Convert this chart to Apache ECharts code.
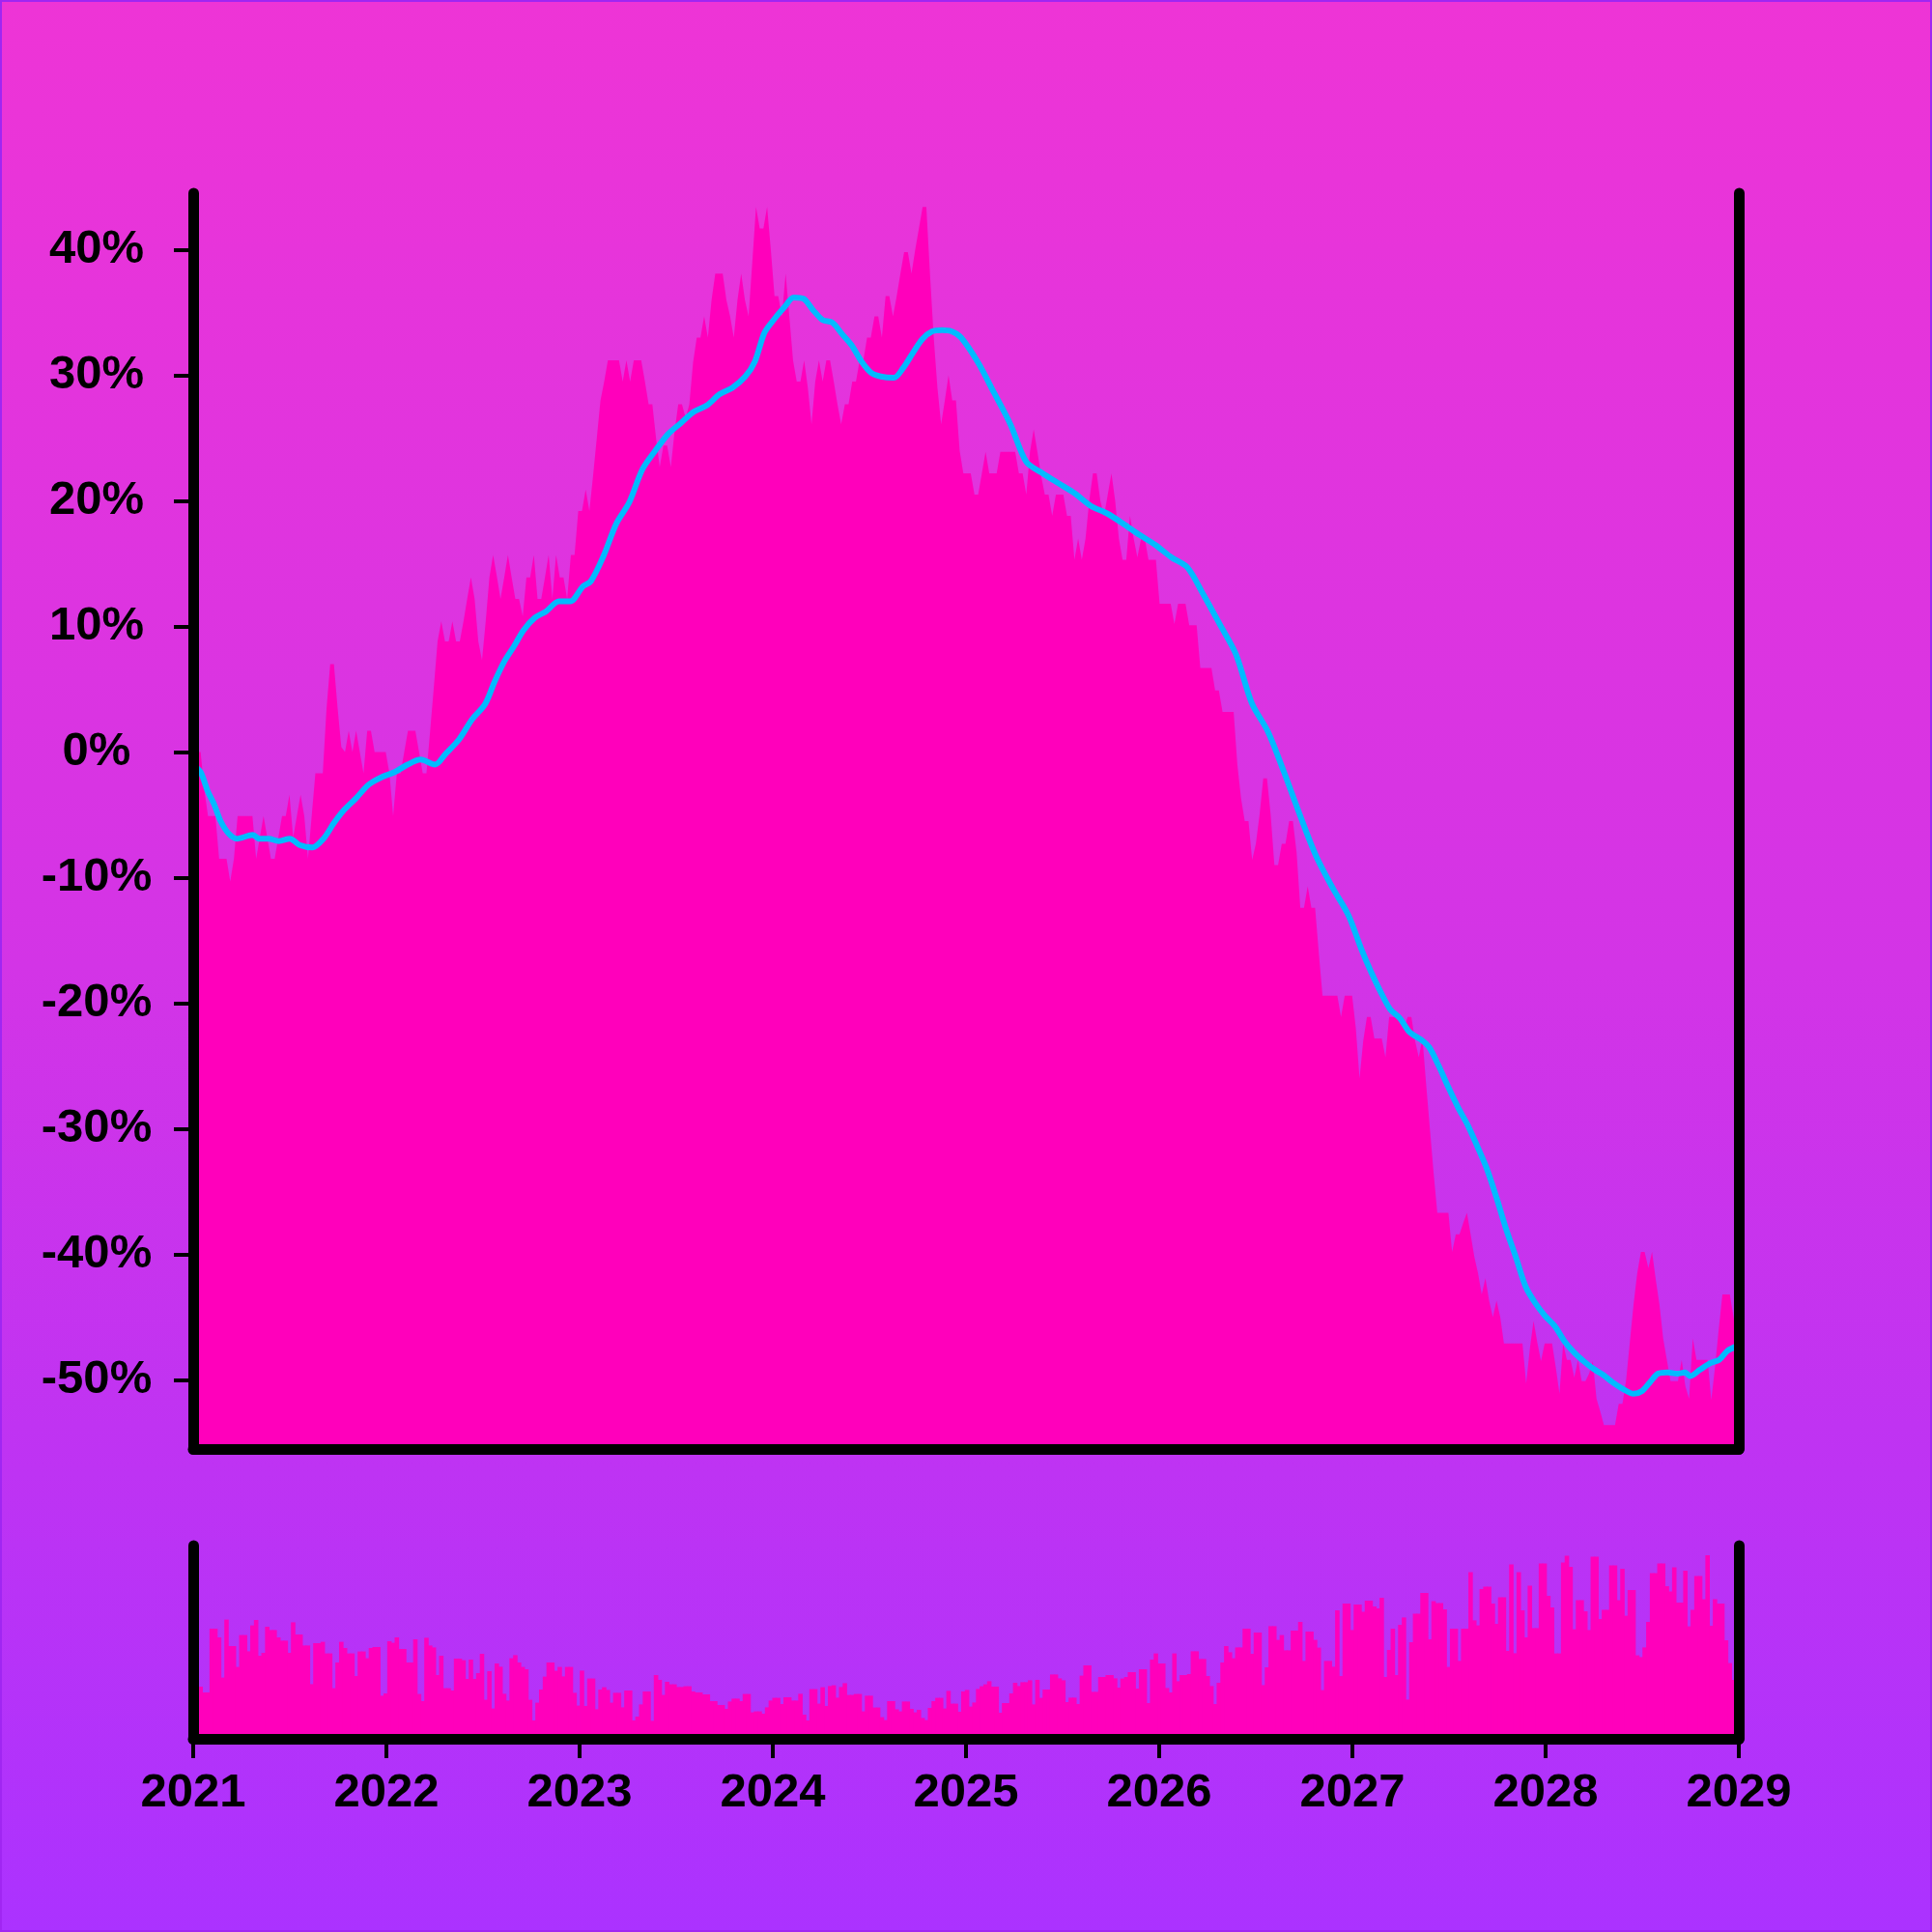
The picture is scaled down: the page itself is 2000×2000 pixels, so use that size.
<!DOCTYPE html>
<html>
<head>
<meta charset="utf-8">
<script src="https://cdn.jsdelivr.net/npm/echarts@6/dist/echarts.min.js"></script>
<style>
  html, body { margin: 0; padding: 0; }
  #wrap { position: relative; width: 2000px; height: 2000px;
    background: linear-gradient(180deg, #ee34d6 0%, #d334e6 50%, #ab32ff 100%); }
  #chart { position: absolute; left: 0; top: 0; width: 2000px; height: 2000px; }
  #frame { position: absolute; left: 0; top: 0; width: 2000px; height: 2000px;
    box-sizing: border-box; border: 2px solid #a026f2; pointer-events: none; }
</style>
</head>
<body>
<div id="wrap"><div id="chart"></div><div id="frame"></div></div>
<script>
// ---- data (weekly, starting 2021-01-01) ----
const startYear = 2021;
const endYear = 2029;
const pctTicks = [-50, -40, -30, -20, -10, 0, 10, 20, 30, 40];

// weekly % change (area)
const weeklyChange = [
0,0,0,-3,-5.1,-5.1,-5.1,-8.5,-8.5,-8.5,
-10.3,-8.5,-5.1,-5.1,-5.1,-5.1,-5.1,-8.5,-6.8,-5.1,
-6.8,-8.5,-8.5,-6.8,-5.1,-5.1,-3.4,-6.8,-5.1,-3.4,
-5.1,-8.5,-5.1,-1.7,-1.7,-1.7,3.4,7.0,7.0,3.5,
0.4,0,1.7,0,1.7,0,-1.7,1.7,1.7,0,
0,0,0,-1.7,-5.1,-1.7,-1.7,0,1.7,1.7,
1.7,0,-1.7,-1.7,1.7,5.2,8.8,10.4,8.8,8.8,
10.4,8.8,8.8,10.4,12.2,13.9,12.2,8.8,7.3,10.4,
13.9,15.7,14.0,12.2,13.9,15.7,13.9,12.2,12.2,10.8,
13.9,13.9,15.7,12.2,12.2,13.9,15.7,12.2,15.7,13.9,
13.9,12.2,15.7,15.7,19.2,19.2,20.9,19.2,22,25,
28,29.5,31.2,31.2,31.2,31.2,29.5,31.2,29.5,31.2,
31.2,31.2,29.5,27.7,27.7,25,22.7,24.4,24.4,22.7,
25.5,27.7,27.7,26.6,27.7,31,33,33,34.7,33,
36,38.1,38.1,38.1,36,34.7,33,36,38.1,36,
34.7,39,43.4,41.7,41.7,43.4,40,36.3,36.3,34.7,
38.1,34.7,31.2,29.5,29.5,31.2,29,26.1,29.5,31.2,
29.5,31.2,31.2,29.5,27.7,26.1,27.7,27.7,29.5,29.5,
31.2,31.2,33,33,34.7,34.7,33,36.3,36.3,34.7,
36.3,38.1,39.8,39.8,38.1,40,41.7,43.4,43.4,38,
33,29,26.1,28,30,28,28,24,22.2,22.2,
22.2,20.5,20.5,22.2,23.9,22.2,22.2,22.2,23.9,23.9,
23.9,23.9,23.9,22.2,22.2,20.5,23.9,25.7,23.9,22,
20.5,20.5,18.8,20.5,20.5,20.5,18.8,18.8,15.3,17.0,
15.3,17,20,22.2,22.2,20,18.8,20.5,22.2,20,
17,15.3,15.3,18.8,17,15.5,17,17,15.3,15.3,
15.3,11.8,11.8,11.8,11.8,10.2,11.8,11.8,11.8,10.1,
10.1,10.1,6.7,6.7,6.7,6.7,4.9,4.9,3.2,3.2,
3.2,3.2,-1,-3.7,-5.5,-5.5,-8.6,-7.3,-5,-2.1,
-2.1,-5,-9.0,-9.0,-7.3,-7.3,-5.5,-5.5,-8,-12.4,
-12.4,-10.7,-12.4,-12.4,-16,-19.4,-19.4,-19.4,-19.4,-19.4,
-21.1,-19.4,-19.4,-19.4,-22,-26,-23,-21.1,-21.1,-22.8,
-22.8,-22.8,-24.3,-21.1,-21.1,-21.1,-21.1,-22,-21.1,-21.1,
-23,-24.3,-22.8,-26.5,-30,-33.5,-36.7,-36.7,-36.7,-36.7,
-39.8,-38.4,-38.4,-37.5,-36.7,-38.4,-40.2,-41.5,-43.2,-41.9,
-43.7,-45,-43.7,-45,-47.1,-47.1,-47.1,-47.1,-47.1,-47.1,
-50.3,-47.5,-45.3,-47,-48.5,-47.1,-47.1,-47.1,-49,-51.1,
-47.1,-48.4,-48.4,-49.8,-48.4,-50.1,-50.1,-49.5,-48.5,-51.5,
-52.5,-53.6,-53.6,-53.6,-53.6,-51.9,-51.9,-50,-47,-44,
-41.5,-39.8,-39.8,-41.1,-39.8,-42,-44,-46.7,-48.4,-50.1,
-50.1,-50.1,-48.4,-50.5,-51.5,-46.7,-48.4,-48.4,-48.4,-48.4,
-51.6,-49,-46,-43.2,-43.2,-43.2,-45,-47
];

// rolling average (cyan line), read at these week offsets
const avgWeeks = [0,2,3.9,5.7,7.4,9.6,11.8,16.1,17.8,20.4,23.1,26.1,28.7,32.2,35.2,37.9,40.5,43.9,47.4,50.9,
54.4,57.9,61.4,65.3,68.3,71.8,75.3,78.8,81.4,84.0,86.6,89.2,92.3,95.3,98.8,101.8,105.3,107.4,110.8,114.3,
117.8,121.3,124.8,128.2,131.7,135.2,138.7,142.2,145.6,149.1,151.7,154.3,157,159.6,162.2,164.8,167.4,170,172.6,175.2,
177.8,180.5,183.1,185.7,189.2,191.8,194.4,197,199.6,202.2,204.8,207.4,212,216.3,220.7,225,229.4,233.7,238.1,242.4,
246.8,251.1,255.5,259.8,264.2,268.5,272.9,277.2,281.6,285.9,290.3,294.6,299,303.3,307.7,312,315.5,318.1,320.7,323.3,
325.9,328.5,331.6,333.8,336.4,339,341.6,344.2,346.8,349.4,352,354.6,357.3,359.9,362.5,365.1,367.7,370.3,372.9,375.5,
378.1,380.8,383.4,386,389,391.2,393.4,395.6,398.2,400.8,402.9,404.3,406.9,409.5,412.1,414.3,417];
const avgValues = [-1.0,-1.6,-3.1,-4.2,-5.5,-6.5,-6.9,-6.6,-6.9,-6.9,-7.1,-6.9,-7.4,-7.6,-6.9,-5.7,-4.7,-3.7,-2.6,-2.0,
-1.6,-1.0,-0.6,-1.0,-0.1,1.0,2.6,3.8,5.6,7.2,8.4,9.7,10.7,11.2,12.0,12.0,13.2,13.6,15.6,18.2,
19.9,22.5,24.0,25.3,26.2,27.1,27.6,28.5,29.0,29.9,31.1,33.4,34.5,35.4,36.2,36.1,35.2,34.4,34.2,33.3,
32.4,31.1,30.2,29.9,29.8,30.6,31.8,32.9,33.5,33.6,33.5,33.0,31.0,28.6,26.1,23.1,22.2,21.4,20.6,19.6,
19.0,18.2,17.3,16.5,15.5,14.7,12.5,10.2,7.8,3.9,1.6,-1.6,-5.1,-8.3,-10.8,-13.0,-15.7,-17.5,-19.1,-20.5,
-21.2,-22.3,-22.9,-23.5,-25.0,-26.7,-28.3,-29.7,-31.4,-33.2,-35.5,-38.0,-40.3,-42.6,-43.9,-44.9,-45.7,-46.9,-47.8,-48.5,
-49.1,-49.6,-50.2,-50.7,-51.1,-50.9,-50.2,-49.5,-49.4,-49.5,-49.4,-49.7,-49.2,-48.7,-48.4,-47.7,-47.3];

// weekly volume (lower panel, arbitrary units 0-100)
const weeklyVolume = [
27,27,27,24,24,57,57,52.5,31.7,61.7,
48,48,37.2,53.7,53.7,45.3,58.7,61.5,43,44.5,
58,56.3,56.3,52.5,50.8,50.8,44.5,60.3,54,54,
48.3,48.3,28.3,49.5,49.5,50.2,44.2,44.2,26.2,39.5,
50.2,47,44.2,44.2,32.5,45.2,45.2,41.7,47,47.5,
47.5,22.3,23.5,50.5,49.7,52.5,46.5,46.5,39.5,39.5,
51.5,23.2,19.5,52.3,48.3,47.3,33,43,26.2,26.2,
25,41.5,41.5,40.7,31,41,31,34,44,20.2,
35,15.7,39,37.3,23.3,19.8,41.7,43.3,39.5,37.2,
36,20.2,9.5,18.7,25.5,32.2,39.5,39.5,35.2,37.2,
32.3,37.2,37.2,23.8,17.2,35.3,17,31.2,31.2,15.3,
25.5,26.7,25.3,18.7,23.8,23.8,16.3,25,25,9.5,
11.5,17.8,24.5,24.5,9.3,33,30.5,22.7,29.5,28.2,
28.2,26.8,26.8,27.2,27.2,24.5,24,24,23,23,
19.5,19.5,17.5,17.5,15.5,19.3,20.8,20.8,19.5,23.2,
23.2,13.7,14.2,14.2,13,16.3,19.8,21.2,21.2,18,
21.5,21.5,19.8,19.8,23.3,12.5,9.5,25.7,25.7,18.2,
26.7,17,27.3,27.7,21.3,26.8,28.8,22.7,22.7,23.2,
23.2,14.2,22.3,22.3,16.2,16.2,11.2,9.7,19.5,19.5,
15.3,14.2,19.3,19.3,15.5,13.7,15,10.8,9.7,16,
19.5,21.2,21.2,15.7,24.8,18.2,18.2,14,24.5,25.3,
16.7,18.8,25.8,27.2,28.2,29.8,27,27,13.5,18.5,
18.5,23.5,29,27.3,29.3,29.3,30.3,17.8,30.5,21.2,
25.5,25.5,33.3,33.3,31.3,30.3,19,21.3,21.3,18,
32.7,38,38,24.3,24.3,32,32,33,33,31.3,
26.5,31.2,32,34.5,34.5,26,36,36,18.5,41,
44.2,39,39,26.3,24,44.2,29.8,33,33,33.5,
45.3,45.3,41.3,41.3,32.5,27.3,18,29,39.5,48,
44.8,41.7,47.3,47.3,57,57,44,55,55,27.8,
37,58.3,58.3,51.2,53.7,45.8,45.8,56,56,60.5,
40.3,55.5,55.5,51.2,47.2,25.2,40.3,40.3,37.3,66.5,
32.5,70,70,56.3,69.5,69.5,65.8,71.5,71.5,68.5,
67.5,73,32,46,57,33,59,62.8,20.3,50,
64.7,64.7,75.5,75.5,51.5,71.2,70.3,70.3,67,37.2,
57,57,40.3,57,57,86.3,61.3,58.7,77.5,78.8,
78.8,70,59.5,73.2,73.2,45.5,90.3,44.3,86.2,66.5,
52.5,79.3,57.3,57.3,90.7,90.7,74,68,44.2,44.2,
91.3,94.7,89,56.7,71.8,71.8,66,56.3,94.3,94.3,
62,66.7,66.7,89.8,89.8,71.7,88,63.7,77,77,
43.2,42.3,47.3,60.5,85.7,85.7,90.8,90.8,79,76.3,
88.7,70.5,70.5,87,58.2,66.7,84.3,84.3,72.3,95,
58.5,72.2,70,70,51,39.2,30.5,30
];

// ---- build: x is the decimal year (2021-01-01 = 2021.0, 7 days per week) ----
const weekYear = w => startYear + (w * 7) / 365.25;
const areaData = weeklyChange.map((v, i) => [weekYear(i), v]);
const avgData = avgWeeks.map((w, i) => [weekYear(w), avgValues[i]]);
const volData = weeklyVolume.map((v, i) => [weekYear(i), v]);

const FONT = '"Liberation Sans", Arial, Helvetica, sans-serif';
const AXIS_LINE = { show: true, onZero: false, lineStyle: { color: '#000', width: 11, cap: 'round', join: 'round' } };
const PINK = '#ff00bb';
const LABEL = { color: '#000', fontFamily: FONT, fontWeight: 'bold', fontSize: 49 };

const chart = echarts.init(document.getElementById('chart'), null, { renderer: 'canvas' });
chart.setOption({
  backgroundColor: 'transparent',
  animation: false,
  grid: [
    { left: 200, right: 200, top: 200, height: 1300 },
    { left: 200, right: 200, top: 1600, height: 200 }
  ],
  xAxis: [
    { gridIndex: 0, type: 'value', min: startYear, max: endYear, interval: 1, z: 10,
      axisLine: AXIS_LINE, axisTick: { show: false }, axisLabel: { show: false }, splitLine: { show: false } },
    { gridIndex: 1, type: 'value', min: startYear, max: endYear, interval: 1, z: 10,
      axisLine: AXIS_LINE,
      axisTick: { show: true, length: 20, lineStyle: { color: '#000', width: 4 } },
      axisLabel: Object.assign({ show: true, margin: 32, formatter: v => String(v) }, LABEL),
      splitLine: { show: false } }
  ],
  yAxis: [
    { gridIndex: 0, type: 'value', min: -55.5, max: 44.5, z: 10,
      axisLine: AXIS_LINE,
      axisTick: { show: true, length: 20, customValues: pctTicks, lineStyle: { color: '#000', width: 4 } },
      axisLabel: Object.assign({ show: true, customValues: pctTicks, margin: 100, align: 'center',
        formatter: v => v + '%' }, LABEL),
      splitLine: { show: false } },
    { gridIndex: 0, type: 'value', position: 'right', min: -55.5, max: 44.5, z: 10,
      axisLine: AXIS_LINE, axisTick: { show: false }, axisLabel: { show: false }, splitLine: { show: false } },
    { gridIndex: 1, type: 'value', min: 0, max: 100, z: 10,
      axisLine: AXIS_LINE, axisTick: { show: false }, axisLabel: { show: false }, splitLine: { show: false } },
    { gridIndex: 1, type: 'value', position: 'right', min: 0, max: 100, z: 10,
      axisLine: AXIS_LINE, axisTick: { show: false }, axisLabel: { show: false }, splitLine: { show: false } }
  ],
  series: [
    { type: 'line', xAxisIndex: 0, yAxisIndex: 0, data: areaData, symbol: 'none',
      lineStyle: { width: 0 }, areaStyle: { color: PINK, opacity: 1, origin: 'start' }, z: 2 },
    { type: 'line', xAxisIndex: 0, yAxisIndex: 0, data: avgData, symbol: 'none', smooth: 0.3,
      lineStyle: { color: '#00bbff', width: 6 }, z: 3 },
    { type: 'bar', xAxisIndex: 1, yAxisIndex: 2, data: volData, barWidth: 4.6,
      itemStyle: { color: PINK }, z: 2 }
  ]
});
</script>
</body>
</html>
